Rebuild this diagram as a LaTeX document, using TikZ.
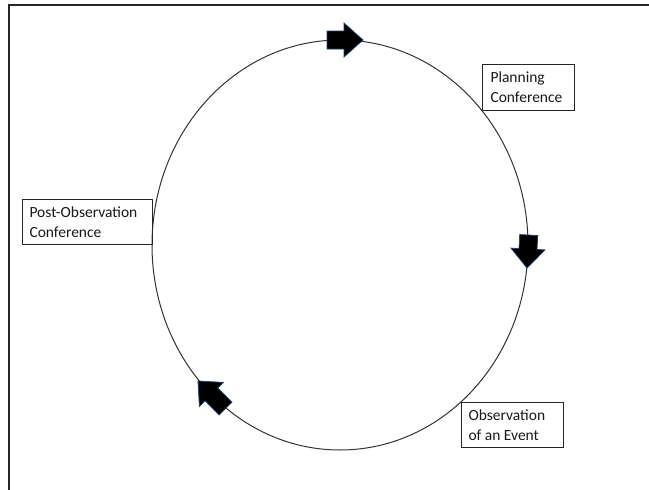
\documentclass[tikz,border=0pt]{standalone}
\usepackage{fontspec}
\setmainfont{Carlito}
\usetikzlibrary{shapes.geometric}
\tikzset{
  frameline/.style={line width=2pt, draw=black!85},
  cycleline/.style={line width=1pt, draw=black!80},
  labelbox/.style={draw=black!85, line width=1pt, rectangle, anchor=north west, align=left,
    inner sep=0pt, font=\fontsize{15.5}{20}\selectfont, text=black!90},
  blockarrow/.style={fill=black, draw={rgb,255:red,35;green,65;blue,110}, line width=0.8pt, line join=miter},
}
\newcommand{\blockarr}[3]{% tip, rotation, length
  \begin{scope}[shift={#1}, rotate=#2]
    \fill[blockarrow] (0,0) -- (-19,-17) -- (-19,-9) -- (-#3,-9) -- (-#3,9) -- (-19,9) -- (-19,17) -- cycle;
  \end{scope}}
\begin{document}
\begin{tikzpicture}[x=1pt,y=-1pt]
\useasboundingbox (0,0) rectangle (649,490);
\fill[white] (0,0) rectangle (649,490);
% frame (only top and left edges visible)
\draw[frameline] (9,491) -- (9,5) -- (650,5);
% cycle ellipse
\node[cycleline, ellipse, minimum width=376, minimum height=410, inner sep=0pt] (cyc) at (340,245) {};
% labels
\node[labelbox, minimum width=92, minimum height=46] (plan) at (482,64) {\begin{minipage}{90pt}\hspace*{7pt}Planning\\\hspace*{7pt}Conference\end{minipage}};
\node[labelbox, minimum width=130, minimum height=45] (post) at (22,199) {\begin{minipage}{128pt}\hspace*{6pt}Post-Observation\\\hspace*{6pt}Conference\end{minipage}};
\node[labelbox, minimum width=102, minimum height=45] (obs) at (461,402) {\begin{minipage}{100pt}\hspace*{6pt}Observation\\\hspace*{6pt}of an Event\end{minipage}};
% arrows
\blockarr{(363,40)}{0}{36}
\blockarr{(527,268)}{-93}{33}
\blockarr{(198,381)}{135}{39}
\end{tikzpicture}
\end{document}
